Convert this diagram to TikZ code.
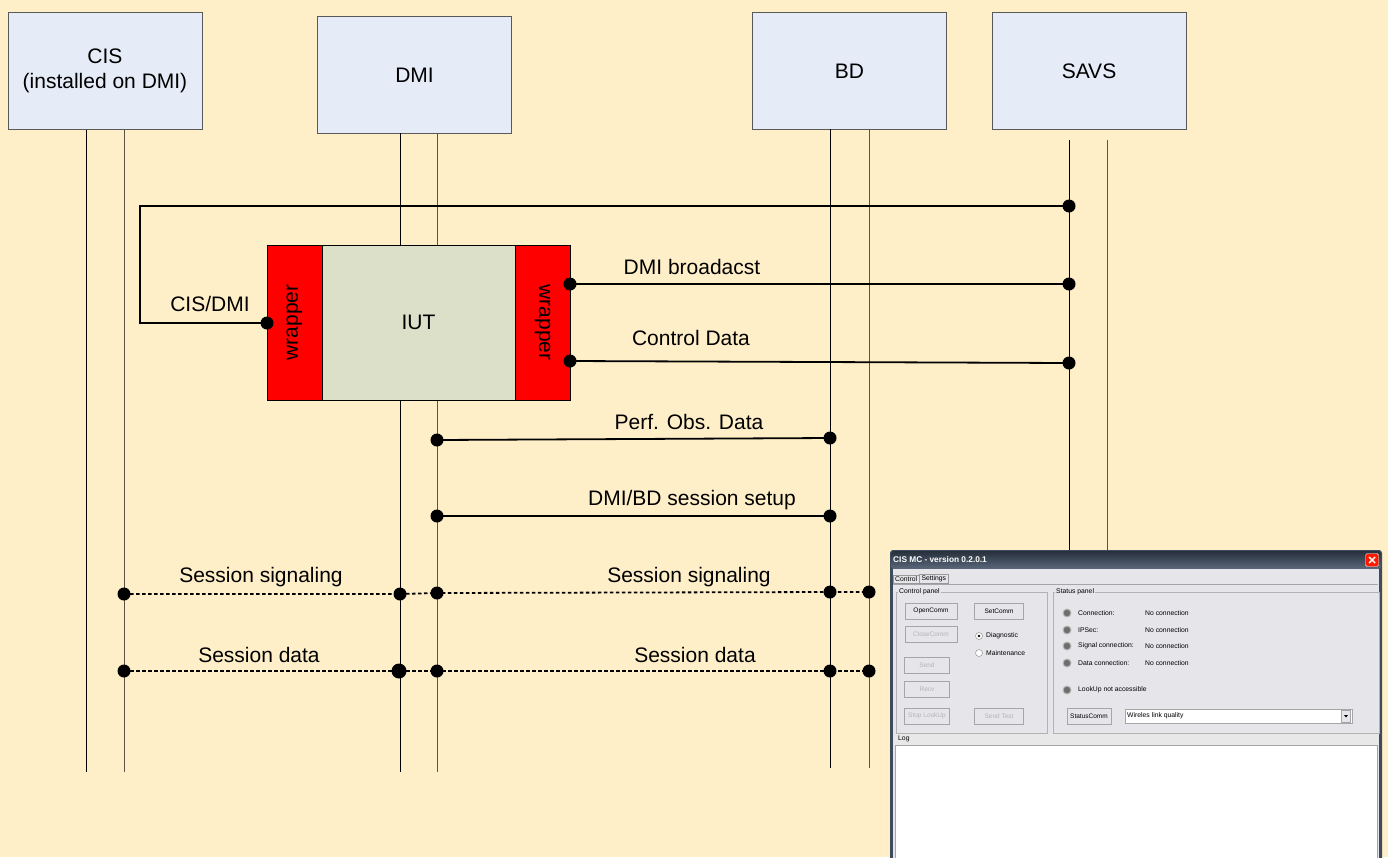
\documentclass[tikz,border=0pt]{standalone}
\usepackage{fontspec}
\setmainfont{Liberation Sans}
\usetikzlibrary{calc}
\definecolor{bg}{HTML}{FFEFC9}
\definecolor{actorfill}{HTML}{E5ECF7}
\definecolor{iutfill}{HTML}{DCE0C8}
\definecolor{lifeB}{HTML}{5C5444}
\definecolor{winbg}{HTML}{E6E5EA}
\definecolor{winframe}{HTML}{3E4B5E}
\definecolor{titleA}{HTML}{27303C}
\definecolor{titleB}{HTML}{5A687A}
\definecolor{ledgray}{HTML}{6E6E6E}
\definecolor{offtext}{HTML}{B4B4B8}

\tikzset{
  actor/.style={draw=black!65, fill=actorfill, minimum width=194pt, minimum height=117pt,
    inner sep=0pt, font=\fontsize{21}{25}\selectfont, align=center},
  life/.style={line width=0.9pt, black},
  life2/.style={line width=0.9pt, lifeB},
  dot/.style={circle, fill=black, inner sep=0pt, minimum size=13pt},
  msg/.style={line width=1.8pt},
  sess/.style={line width=1.8pt, dash pattern=on 3.5pt off 2.5pt},
  lbl/.style={font=\fontsize{21}{25}\selectfont, inner sep=0pt},
  wrapbox/.style={draw=black, fill=red, minimum width=155pt, minimum height=55pt,
    inner sep=0pt, font=\fontsize{21}{25}\selectfont},
  btn/.style={draw=gray!70, fill=winbg, minimum height=16pt, inner sep=0pt,
    font=\fontsize{6.5}{7}\selectfont},
  offbtn/.style={btn, text=offtext},
  tiny/.style={font=\fontsize{6.8}{7.5}\selectfont, inner sep=0pt, anchor=west},
  led/.style={circle, draw=gray!55, fill=ledgray, line width=1pt, inner sep=0pt, minimum size=8pt},
  tab/.style={draw=gray!80, fill=winbg, inner xsep=2pt, inner ysep=1.5pt,
    font=\fontsize{6.8}{7.5}\selectfont, anchor=south west},
}

\begin{document}
\begin{tikzpicture}[x=1pt, y=-1pt]
  \useasboundingbox (0,0) rectangle (1388,857);
  \fill[bg] (0,0) rectangle (1388,857);

  % actors
  \node[actor] (cis)  at (105,71)    {CIS\\(installed on DMI)};
  \node[actor] (dmi)  at (414.5,75)  {DMI};
  \node[actor] (bd)   at (849.5,71)  {BD};
  \node[actor] (savs) at (1089,71)   {SAVS};

  % lifeline end points
  \coordinate (cisA0) at (86,130);   \coordinate (cisA1) at (86,772);
  \coordinate (cisB0) at (124,130);  \coordinate (cisB1) at (124,772);
  \coordinate (dmiA0) at (400,133);  \coordinate (dmiA1) at (400,772);
  \coordinate (dmiB0) at (437,133);  \coordinate (dmiB1) at (437,772);
  \coordinate (bdA0)  at (830,129);  \coordinate (bdA1)  at (830,768);
  \coordinate (bdB0)  at (869,129);  \coordinate (bdB1)  at (869,768);
  \coordinate (svA0)  at (1069,140); \coordinate (svA1)  at (1069,768);
  \coordinate (svB0)  at (1107,140); \coordinate (svB1)  at (1107,768);

  \draw[life]  (cisA0) -- (cisA1);
  \draw[life2] (cisB0) -- (cisB1);
  \draw[life]  (dmiA0) -- (dmiA1);
  \draw[life2] (dmiB0) -- (dmiB1);
  \draw[life]  (bdA0)  -- (bdA1);
  \draw[life2] (bdB0)  -- (bdB1);
  \draw[life]  (svA0)  -- (svA1);
  \draw[life2] (svB0)  -- (svB1);

  % implementation under test with its two wrappers
  \node[draw=black, fill=iutfill, minimum width=193pt, minimum height=155pt,
        inner sep=0pt, font=\fontsize{21}{25}\selectfont] (iut) at (418.5,322.5) {IUT};
  \node[wrapbox, rotate=90]  (wl) at (294.5,322.5) {wrapper};
  \node[wrapbox, rotate=-90] (wr) at (542.5,322.5) {wrapper};

  % CIS/DMI link from SAVS
  \node[dot] (sv1) at (1069,206) {};
  \node[dot] (cd)  at (267,323) {};
  \coordinate (k1) at (140,206);
  \coordinate (k2) at (140,323);
  \draw[msg] (sv1.center) -- (k1) -- (k2) -- (cd.center);
  \node[lbl] (lcd) at (210,304) {CIS/DMI};

  % DMI broadcast
  \node[dot] (b1) at (570,284) {};
  \node[dot] (b2) at (1069,284) {};
  \draw[msg] (b1.center) -- (b2.center);
  \node[lbl] (lb) at (692,267) {DMI broadacst};

  % Control data
  \node[dot] (c1) at (570,361) {};
  \node[dot] (c2) at (1069,363) {};
  \draw[msg] (c1.center) -- (c2.center);
  \node[lbl] (lc) at (691,338) {Control Data};

  % Performance observation data
  \node[dot] (p1) at (437,440) {};
  \node[dot] (p2) at (830,438) {};
  \draw[msg] (p1.center) -- (p2.center);
  \node[lbl] (lp) at (689,422) {Perf. Obs. Data};

  % DMI/BD session setup
  \node[dot] (u1) at (437,516) {};
  \node[dot] (u2) at (830,516) {};
  \draw[msg] (u1.center) -- (u2.center);
  \node[lbl] (lu) at (692,500) {DMI/BD session setup};

  % Session signaling
  \node[dot] (g1) at (124,594) {};
  \node[dot] (g2) at (400,594) {};
  \node[dot] (g3) at (437,593) {};
  \node[dot] (g4) at (830,592) {};
  \node[dot] (g5) at (869,592) {};
  \draw[sess] (g1.center) -- (g2.center) -- (g3.center) -- (g4.center) -- (g5.center);
  \node[lbl] (lg1) at (261,577) {Session signaling};
  \node[lbl] (lg2) at (689,577) {Session signaling};

  % Session data
  \node[dot] (d1) at (124,671) {};
  \node[dot, minimum size=15pt] (d2) at (399,671) {};
  \node[dot] (d3) at (437,671) {};
  \node[dot] (d4) at (830,671) {};
  \node[dot] (d5) at (869,671) {};
  \draw[sess] (d1.center) -- (d2.center) -- (d3.center) -- (d4.center) -- (d5.center);
  \node[lbl] (ld1) at (259,655) {Session data};
  \node[lbl] (ld2) at (695,655) {Session data};

  % ---- CIS MC application window ----
  \fill[winframe, rounded corners=3pt] (890,550) rectangle (1382,870);
  \shade[top color=titleA, bottom color=titleB, rounded corners=3pt] (891,551) rectangle (1381,569);
  \fill[winbg] (893,569) rectangle (1379,870);
  \node[font=\bfseries\fontsize{8.3}{9}\selectfont, text=white, anchor=west, inner sep=0pt]
    (wtitle) at (893,560) {CIS MC - version 0.2.0.1};
  \node[draw=white!80, fill=red!80!orange, rounded corners=1.5pt, minimum size=13pt, inner sep=0pt]
    (wclose) at (1372,560) {};
  \draw[white, line width=1.4pt] ($(wclose.center)+(-3,-3)$) -- ($(wclose.center)+(3,3)$)
    ($(wclose.center)+(-3,3)$) -- ($(wclose.center)+(3,-3)$);

  % tabs
  \node[tab] (tabctl) at (893,583.5) {Control};
  \node[tab] (tabset) at (tabctl.south east) {Settings};
  \draw[gray!70] (893,584) -- (1378,584);

  % control panel group
  \draw[gray!60] (896,592) rectangle (1047,733);
  \node[tiny, fill=winbg, inner xsep=1pt] (gcp) at (898,592) {Control panel};
  \node[btn, minimum width=52pt] (bopen)  at (931,611) {OpenComm};
  \node[btn, minimum width=49pt] (bset)   at (999,611) {SetComm};
  \node[offbtn, minimum width=52pt] (bclose) at (931,634) {CloseComm};
  \node[offbtn, minimum width=45pt] (bsend)  at (927,665) {Send};
  \node[offbtn, minimum width=45pt] (brecv)  at (927,689) {Recv};
  \node[offbtn, minimum width=45pt] (bstop)  at (927,716) {Stop LookUp};
  \node[offbtn, minimum width=49pt] (btest)  at (999,716) {Send Test};
  \node[circle, draw=gray, fill=white, minimum size=7pt, inner sep=0pt] (rdiag) at (979,636) {};
  \fill[black] (rdiag.center) circle (1.4pt);
  \node[tiny] (tdiag) at (986,636) {Diagnostic};
  \node[circle, draw=gray, fill=white, minimum size=7pt, inner sep=0pt] (rmain) at (979,653) {};
  \node[tiny] (tmain) at (986,653) {Maintenance};

  % status panel group
  \draw[gray!60] (1053,592) rectangle (1379,733);
  \node[tiny, fill=winbg, inner xsep=1pt] (gsp) at (1055,592) {Status panel};
  \node[led] (l1) at (1067,613) {};
  \node[led] (l2) at (1067,630) {};
  \node[led] (l3) at (1067,646) {};
  \node[led] (l4) at (1067,663) {};
  \node[led] (l5) at (1067,690) {};
  \node[tiny] (s1) at (1078,613) {Connection:};
  \node[tiny] (s2) at (1078,630) {IPSec:};
  \node[tiny] (s3) at (1078,646) {Signal connection:};
  \node[tiny] (s4) at (1078,663) {Data connection:};
  \node[tiny] (s5) at (1078,690) {LookUp not accessible};
  \node[tiny] (v1) at (1145,613) {No connection};
  \node[tiny] (v2) at (1145,630) {No connection};
  \node[tiny] (v3) at (1145,646) {No connection};
  \node[tiny] (v4) at (1145,663) {No connection};
  \node[btn, minimum width=44pt] (bstat) at (1089,716) {StatusComm};
  \draw[gray!70, fill=white] (1125,709) rectangle (1352,723);
  \node[tiny] (dd) at (1127,716) {Wireles link quality};
  \node[draw=gray!70, fill=winbg, minimum width=9pt, minimum height=12pt, inner sep=0pt] (ddarrow) at (1346,716) {};
  \fill[black] ($(ddarrow.center)+(-2,-1)$) -- ($(ddarrow.center)+(2,-1)$) -- ($(ddarrow.center)+(0,1.5)$) -- cycle;

  % log group
  \fill[gray!18] (893,734) rectangle (1379,745);
  \node[tiny] (glog) at (898,739) {Log};
  \draw[gray!70, fill=white] (895,745) rectangle (1377,870);
\end{tikzpicture}
\end{document}
